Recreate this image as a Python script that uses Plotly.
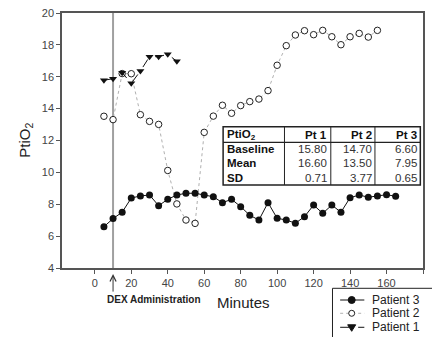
import plotly.graph_objects as go

# ---- data ----
p1_x = [5, 10, 15, 20, 25, 30, 35, 40, 45]
p1_y = [15.78, 15.88, 16.25, 15.59, 16.36, 17.26, 17.26, 17.41, 16.97]

p2_x = [5, 10, 15, 20, 25, 30, 35, 40, 45, 50, 55, 60, 65, 70, 75, 80, 85, 90, 95,
        100, 105, 110, 115, 120, 125, 130, 135, 140, 145, 150, 155]
p2_y = [13.52, 13.31, 16.2, 16.19, 13.62, 13.2, 13.01, 10.12, 8.02, 7.01, 6.8, 12.51,
        13.53, 14.21, 13.71, 14.19, 14.44, 14.6, 15.13, 16.72, 17.95, 18.62, 18.89,
        18.64, 18.91, 18.51, 18.01, 18.51, 18.72, 18.49, 18.91]

p3_x = [5, 10, 15, 20, 25, 30, 35, 40, 45, 50, 55, 60, 65, 70, 75, 80, 85, 90, 95,
        100, 105, 110, 115, 120, 125, 130, 135, 140, 145, 150, 155, 160, 165]
p3_y = [6.59, 7.1, 7.5, 8.39, 8.52, 8.58, 7.91, 8.31, 8.58, 8.69, 8.69, 8.58, 8.47,
        8.1, 8.31, 7.85, 7.31, 7.01, 8.1, 7.12, 7.01, 6.81, 7.22, 7.95, 7.43, 7.95,
        7.5, 8.41, 8.58, 8.44, 8.52, 8.6, 8.5]

dex_time = 10
x_ticks = [0, 20, 40, 60, 80, 100, 120, 140, 160, 180]
y_ticks = [4, 6, 8, 10, 12, 14, 16, 18, 20]

table_header = ["PtiO<sub>2</sub>", "Pt 1", "Pt 2", "Pt 3"]
table_rows = ["Baseline", "Mean", "SD"]
table_pt1 = ["15.80", "16.60", "0.71"]
table_pt2 = ["14.70", "13.50", "3.77"]
table_pt3 = ["6.60", "7.95", "0.65"]

legend_names = ["Patient 3", "Patient 2", "Patient 1"]

FONT = "Arial, Liberation Sans, sans-serif"

fig = go.Figure()
fig.add_trace(go.Scatter(x=p2_x, y=p2_y, mode="lines+markers", name="Patient 2",
                         line=dict(color="#b0b0b0", width=1, dash="dot"),
                         marker=dict(symbol="circle", size=6.5, color="white",
                                     line=dict(color="#222", width=1))))
fig.add_trace(go.Scatter(x=p3_x, y=p3_y, mode="lines+markers", name="Patient 3",
                         line=dict(color="#111", width=1),
                         marker=dict(symbol="circle", size=7, color="#111")))
fig.add_trace(go.Scatter(x=p1_x, y=p1_y, mode="lines+markers", name="Patient 1",
                         line=dict(color="#111", width=1, dash="dash"),
                         marker=dict(symbol="triangle-down", size=7, color="#111")))

shapes = []
annotations = []

# DEX vertical line
shapes.append(dict(type="line", xref="x", yref="paper", x0=dex_time, x1=dex_time,
                   y0=0, y1=1, line=dict(color="#a0a0a0", width=2), layer="below"))
annotations.append(dict(xref="x", yref="paper", x=dex_time, y=-0.024, ax=0, ay=19,
                        text="", showarrow=True, arrowhead=5, arrowsize=1.2,
                        arrowwidth=1, arrowcolor="#333", standoff=0))
annotations.append(dict(xref="paper", yref="paper", x=0.2554, y=-0.125,
                        text="<b>DEX Administration</b>", showarrow=False,
                        font=dict(family=FONT, size=10, color="#222"),
                        xanchor="center", yanchor="middle"))

# axis titles
annotations.append(dict(xref="paper", yref="paper", x=0.5014, y=-0.137, text="Minutes",
                        showarrow=False, font=dict(family=FONT, size=15, color="#222"),
                        xanchor="center", yanchor="middle"))
annotations.append(dict(xref="paper", yref="paper", x=-0.102, y=0.5,
                        text="PtiO<sub>2</sub>", textangle=-90, showarrow=False,
                        font=dict(family=FONT, size=15, color="#222"),
                        xanchor="center", yanchor="middle"))

# table
tx0, tx1, ty0, ty1 = 0.4463, 0.9926, 0.3255, 0.5541
shapes.append(dict(type="rect", xref="paper", yref="paper", x0=tx0, x1=tx1, y0=ty0,
                   y1=ty1, fillcolor="white", line=dict(color="#222", width=1.5),
                   layer="above"))
shapes.append(dict(type="line", xref="paper", yref="paper", x0=tx0, x1=tx1, y0=0.4929,
                   y1=0.4929, line=dict(color="#222", width=1.2)))
col_div = [0.6163, 0.7446, 0.8669]
for cx in col_div:
    shapes.append(dict(type="line", xref="paper", yref="paper", x0=cx, x1=cx, y0=ty0,
                       y1=ty1, line=dict(color="#222", width=1)))
col_right = [0.7397, 0.8636, 0.9876]
row_y = [0.4667, 0.4106, 0.3541]
header_y = 0.5216
tfont = dict(family=FONT, size=11.5, color="#111")
annotations.append(dict(xref="paper", yref="paper", x=0.452, y=header_y,
                        text="<b>" + table_header[0] + "</b>", showarrow=False,
                        xanchor="left", yanchor="middle", font=tfont))
for i in range(3):
    annotations.append(dict(xref="paper", yref="paper", x=col_right[i], y=header_y,
                            text="<b>" + table_header[i + 1] + "</b>", showarrow=False,
                            xanchor="right", yanchor="middle", font=tfont))
cols = [table_pt1, table_pt2, table_pt3]
for r in range(3):
    annotations.append(dict(xref="paper", yref="paper", x=0.452, y=row_y[r],
                            text="<b>" + table_rows[r] + "</b>", showarrow=False,
                            xanchor="left", yanchor="middle", font=tfont))
    for c in range(3):
        annotations.append(dict(xref="paper", yref="paper", x=col_right[c], y=row_y[r],
                                text=cols[c][r], showarrow=False, xanchor="right",
                                yanchor="middle", font=dict(family=FONT, size=11.5,
                                                            color="#333")))

# manual legend
shapes.append(dict(type="rect", xref="paper", yref="paper", x0=0.7493, x1=1.06,
                   y0=-0.40, y1=-0.0796, fillcolor="white",
                   line=dict(color="#222", width=1)))
leg_y = [-0.1255, -0.1776, -0.2325]
leg_line = [dict(color="#111", width=1), dict(color="#b0b0b0", width=1, dash="dot"),
            dict(color="#111", width=1, dash="dash")]
lx0, lx1, lxm, ltx = 0.7705, 0.8375, 0.8025, 0.8532
for i in range(3):
    shapes.append(dict(type="line", xref="paper", yref="paper", x0=lx0, x1=lx1,
                       y0=leg_y[i], y1=leg_y[i], line=leg_line[i]))
    annotations.append(dict(xref="paper", yref="paper", x=ltx, y=leg_y[i],
                            text=legend_names[i], showarrow=False, xanchor="left",
                            yanchor="middle", font=dict(family=FONT, size=12,
                                                        color="#222")))
# legend markers (pixel-sized)
shapes.append(dict(type="circle", xref="paper", yref="paper", xsizemode="pixel",
                   ysizemode="pixel", xanchor=lxm, yanchor=leg_y[0], x0=-3.5, x1=3.5,
                   y0=-3.5, y1=3.5, fillcolor="#111", line=dict(color="#111", width=1)))
shapes.append(dict(type="circle", xref="paper", yref="paper", xsizemode="pixel",
                   ysizemode="pixel", xanchor=lxm, yanchor=leg_y[1], x0=-3, x1=3,
                   y0=-3, y1=3, fillcolor="white", line=dict(color="#222", width=1)))
shapes.append(dict(type="path", xref="paper", yref="paper", xsizemode="pixel",
                   ysizemode="pixel", xanchor=lxm, yanchor=leg_y[2],
                   path="M -4 2.5 L 4 2.5 L 0 -4 Z", fillcolor="#111",
                   line=dict(color="#111", width=1)))

fig.update_layout(
    width=432, height=337,
    margin=dict(l=62, r=7, t=13, b=69),
    paper_bgcolor="white", plot_bgcolor="white",
    showlegend=False,
    font=dict(family=FONT, color="#333"),
    shapes=shapes, annotations=annotations,
    xaxis=dict(range=[-18, 180], tickvals=x_ticks, showgrid=False, zeroline=False,
               showline=True, linecolor="#555", linewidth=1.5, mirror=True,
               ticks="outside", ticklen=4, tickcolor="#555", tickwidth=1,
               tickfont=dict(family=FONT, size=11, color="#444")),
    yaxis=dict(range=[4, 20], tickvals=y_ticks, showgrid=False, zeroline=False,
               showline=True, linecolor="#555", linewidth=1.5, mirror=True,
               ticks="outside", ticklen=4, tickcolor="#555", tickwidth=1,
               tickfont=dict(family=FONT, size=11, color="#444")),
)

fig.write_html("out.html")
